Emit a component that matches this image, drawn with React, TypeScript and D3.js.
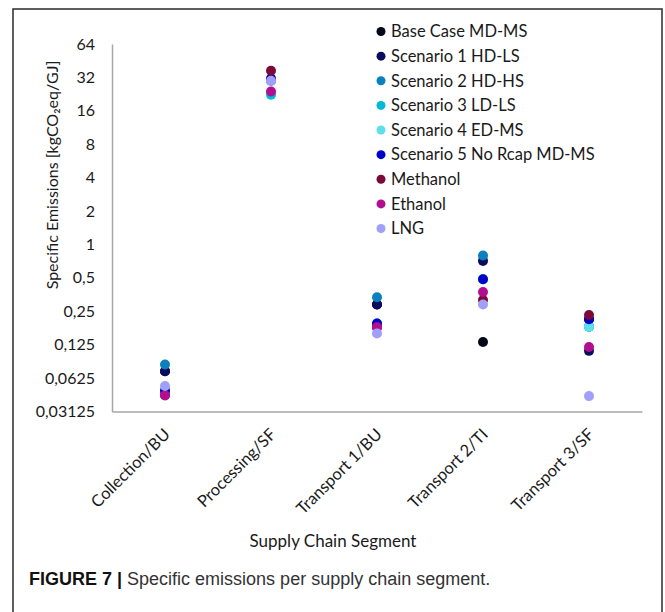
import React from "react";
import * as d3 from "d3";

const categories = [
  "Collection/BU",
  "Processing/SF",
  "Transport 1/BU",
  "Transport 2/TI",
  "Transport 3/SF",
];

const seriesNames = [
  "Base Case MD-MS",
  "Scenario 1 HD-LS",
  "Scenario 2 HD-HS",
  "Scenario 3 LD-LS",
  "Scenario 4 ED-MS",
  "Scenario 5 No Rcap MD-MS",
  "Methanol",
  "Ethanol",
  "LNG",
];

const seriesColors = [
  "#07071c",
  "#0c0c5e",
  "#0a80bd",
  "#00bad8",
  "#5edfe9",
  "#0000c8",
  "#7c0a38",
  "#b0108f",
  "#a0a0fa",
];

// values per series, one per category
const baseCase = [0.072, 30, 0.288, 0.132, 0.212];
const scenario1 = [0.072, 30, 0.288, 0.711, 0.11];
const scenario2 = [0.083, 30, 0.334, 0.795, 0.181];
const scenario3 = [0.048, 22.3, 0.194, 0.486, 0.181];
const scenario4 = [0.048, 30, 0.194, 0.486, 0.181];
const scenario5 = [0.048, 31.3, 0.194, 0.486, 0.212];
const methanol = [0.044, 36.8, 0.179, 0.316, 0.231];
const ethanol = [0.0436, 23.9, 0.179, 0.373, 0.119];
const lng = [0.053, 29.8, 0.158, 0.288, 0.043];

const seriesValues = [
  baseCase,
  scenario1,
  scenario2,
  scenario3,
  scenario4,
  scenario5,
  methanol,
  ethanol,
  lng,
];

const yTicks = [0.03125, 0.0625, 0.125, 0.25, 0.5, 1, 2, 4, 8, 16, 32, 64];

const App = () => {
  const svg = React.useRef(null);

  React.useEffect(() => {
    d3.select(svg.current).selectAll("*").remove();
    drawChart(svg);
  }, [svg]);

  return (
    <svg
      ref={svg}
      width={665}
      height={612}
      style={{ position: "absolute", left: 0, top: 0, background: "#fff" }}
    />
  );
};

function drawChart(svgRef) {
  const w = 665;
  const h = 612;
  const left = 112;
  const right = 642;
  const top = 44;
  const bottom = 411.5;
  const font = "Lato, 'Open Sans', sans-serif";
  const fs = 16.5;

  const svg = d3.select(svgRef.current).attr("width", w).attr("height", h);

  // frame around the figure
  svg
    .append("rect")
    .attr("x", 13)
    .attr("y", 9)
    .attr("width", 649)
    .attr("height", 620)
    .attr("fill", "#fff")
    .attr("stroke", "#2b2b2b")
    .attr("stroke-width", 1.5);

  const xScale = d3.scaleBand().domain(categories).range([left, right]);

  const yScale = d3
    .scaleLog()
    .base(2)
    .domain([0.03125, 64])
    .range([bottom, top]);

  // y-axis
  const yAxis = d3
    .axisLeft(yScale)
    .tickValues(yTicks)
    .tickSize(0)
    .tickPadding(17)
    .tickFormat((d) => String(d).replace(".", ","));

  const gy = svg
    .append("g")
    .attr("id", "y-axis")
    .attr("transform", "translate(" + left + ",0)")
    .call(yAxis);
  gy.select(".domain").attr("stroke", "#a6a6a6").attr("stroke-width", 1.5);
  gy.selectAll("text")
    .attr("font-family", font)
    .attr("font-size", 16)
    .attr("fill", "#1a1a1a");

  // x-axis
  const xAxis = d3.axisBottom(xScale).tickSize(0).tickPadding(0);
  const gx = svg
    .append("g")
    .attr("id", "x-axis")
    .attr("transform", "translate(0," + bottom + ")")
    .call(xAxis);
  gx.select(".domain").attr("stroke", "#a6a6a6").attr("stroke-width", 1.5);
  gx.selectAll("text")
    .attr("font-family", font)
    .attr("font-size", fs)
    .attr("fill", "#1a1a1a")
    .attr("text-anchor", "end")
    .attr("dy", "0")
    .attr("transform", "translate(6,24) rotate(-45)");

  // axis titles
  svg
    .append("text")
    .attr("transform", "translate(58,175) rotate(-90)")
    .attr("text-anchor", "middle")
    .attr("font-family", font)
    .attr("font-size", 16)
    .attr("fill", "#1a1a1a")
    .text("Specific Emissions [kgCO₂eq/GJ]");

  svg
    .append("text")
    .attr("x", 333)
    .attr("y", 547)
    .attr("text-anchor", "middle")
    .attr("font-family", font)
    .attr("font-size", 17)
    .attr("fill", "#1a1a1a")
    .text("Supply Chain Segment");

  // points, later series drawn on top
  const cx = (i) => xScale(categories[i]) + xScale.bandwidth() / 2;
  seriesValues.forEach((values, s) => {
    svg
      .append("g")
      .selectAll("circle")
      .data(values)
      .join("circle")
      .attr("cx", (d, i) => cx(i))
      .attr("cy", (d) => yScale(d))
      .attr("r", 5)
      .attr("fill", seriesColors[s]);
  });

  // legend
  const legendY = d3
    .scalePoint()
    .domain(seriesNames)
    .range([31.5, 228.5]);

  const legend = svg
    .append("g")
    .selectAll("g")
    .data(seriesNames)
    .join("g")
    .attr("transform", (d) => "translate(381," + legendY(d) + ")");
  legend
    .append("circle")
    .attr("r", 4.5)
    .attr("fill", (d, i) => seriesColors[i]);
  legend
    .append("text")
    .attr("x", 10)
    .attr("dy", "0.35em")
    .attr("font-family", font)
    .attr("font-size", fs)
    .attr("fill", "#1a1a1a")
    .text((d) => d);

  // caption
  const caption = svg
    .append("text")
    .attr("x", 29)
    .attr("y", 585)
    .attr("font-family", "'Liberation Sans', Arial, sans-serif")
    .attr("font-size", 18)
    .attr("fill", "#333");
  caption
    .append("tspan")
    .attr("font-weight", "bold")
    .attr("fill", "#111")
    .text("FIGURE 7 | ");
  caption.append("tspan").text("Specific emissions per supply chain segment.");
}

export default App;
